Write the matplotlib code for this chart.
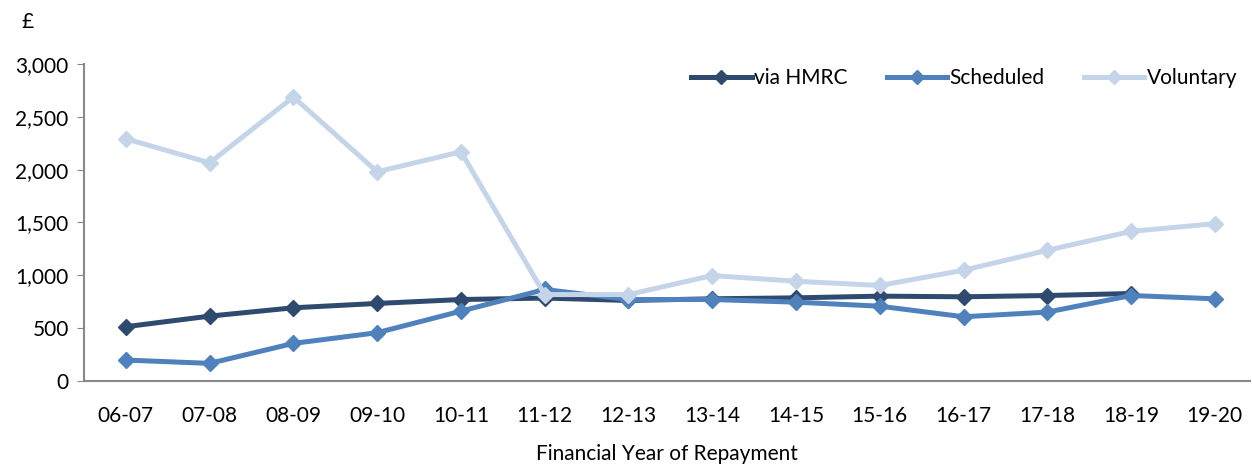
import numpy as np
import matplotlib.pyplot as plt

years = ['06-07', '07-08', '08-09', '09-10', '10-11', '11-12', '12-13',
         '13-14', '14-15', '15-16', '16-17', '17-18', '18-19', '19-20']

via_hmrc = [514, 614, 693, 734, 771, 785, 762, 778, 787, 803, 797, 809, 828, np.nan]
scheduled = [198, 167, 356, 457, 661, 866, 771, 771, 746, 708, 608, 652, 809, 778]
voluntary = [2292, 2065, 2688, 1980, 2169, 818, 818, 998, 944, 904, 1048, 1237, 1416, 1489]

plt.rcParams['font.family'] = ['Lato', 'DejaVu Sans']
fs = 15

fig = plt.figure(figsize=(12.52, 4.69), dpi=100)
ax = fig.add_axes([84 / 1252, 1 - 381 / 469, 1166 / 1252, 317 / 469])

x = np.arange(len(years))
ax.plot(x, via_hmrc, color='#2E4A6E', lw=3.6, marker='D', ms=8, label='via HMRC')
ax.plot(x, scheduled, color='#4F81BD', lw=3.6, marker='D', ms=8, label='Scheduled')
ax.plot(x, voluntary, color='#C5D5E9', lw=3.6, marker='D', ms=8, label='Voluntary')

ax.set_xlim(-0.5, 13.42)
ax.set_ylim(0, 3000)
ax.set_yticks(range(0, 3001, 500))
ax.set_yticklabels([f'{v:,}' for v in range(0, 3001, 500)])
ax.set_xticks(x)
ax.set_xticklabels(years)

for s in ['top', 'right']:
    ax.spines[s].set_visible(False)
for s in ['left', 'bottom']:
    ax.spines[s].set_color('#888888')
    ax.spines[s].set_linewidth(1.5)
ax.tick_params(axis='y', length=5, color='#888888', labelsize=fs, pad=6)
ax.tick_params(axis='x', length=0, labelsize=fs, pad=18)

ax.set_xlabel('Financial Year of Repayment', fontsize=fs, labelpad=13)
fig.text(28 / 1252, 1 - 22 / 469, '£', fontsize=fs, va='center', ha='center')

ax.legend(loc='upper right', bbox_to_anchor=(1.005, 1.045), ncol=3, frameon=False,
          fontsize=fs, handlelength=2.9, handletextpad=0.1, columnspacing=1.9,
          markerscale=0.9)

fig.savefig('out.png')
